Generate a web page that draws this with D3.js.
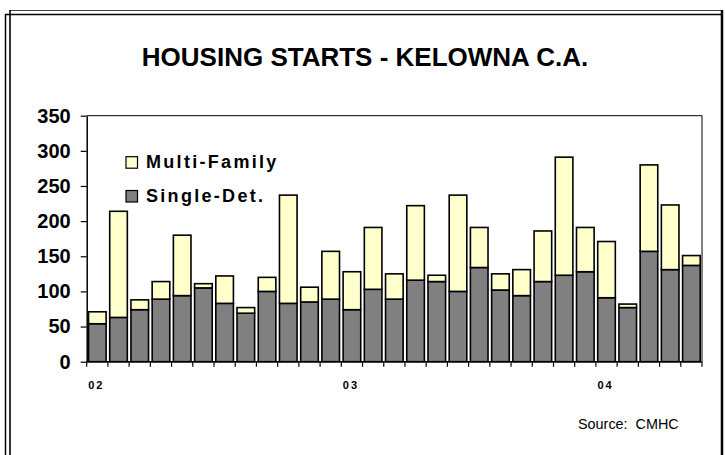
<!DOCTYPE html>
<html>
<head>
<meta charset="utf-8">
<script src="https://cdn.jsdelivr.net/npm/d3@7/dist/d3.min.js"></script>
<style>
  html, body { margin: 0; padding: 0; background: #fff; }
  svg { display: block; }
  text { font-family: "Liberation Sans", Arial, sans-serif; }
</style>
</head>
<body>
<svg id="chart" width="725" height="455"></svg>
<script>
// ---- data ----
const months = [
  "2002-01","2002-02","2002-03","2002-04","2002-05","2002-06","2002-07","2002-08","2002-09","2002-10","2002-11","2002-12",
  "2003-01","2003-02","2003-03","2003-04","2003-05","2003-06","2003-07","2003-08","2003-09","2003-10","2003-11","2003-12",
  "2004-01","2004-02","2004-03","2004-04","2004-05"
];
const singleDet = [54, 63, 74, 89, 94, 105, 83, 69, 100, 83, 85, 89,
                   74, 103, 89, 116, 114, 100, 134, 102, 94, 114, 123, 128,
                   91, 77, 157, 131, 137];
const multiFamily = [17, 151, 14, 25, 86, 6, 39, 8, 20, 154, 21, 68,
                     54, 88, 36, 106, 9, 137, 57, 23, 37, 72, 168, 63,
                     80, 5, 123, 92, 14];
const yTicks = [0, 50, 100, 150, 200, 250, 300, 350];
const xTickMonths = ["2002-01", "2003-01", "2004-01"];
const xTickLabels = ["02", "03", "04"];
const seriesNames = ["Multi-Family", "Single-Det."];
const colors = { single: "#808080", multi: "#FFFFCC" };

// ---- layout ----
const svg = d3.select("#chart");
const L = 86.7, R = 702, T = 115.7, B = 361.7;

// frame
const frame = svg.append("g").attr("fill", "none").attr("stroke", "#000");
frame.append("line").attr("x1", 9).attr("y1", 10.5).attr("x2", 723).attr("y2", 10.5).attr("stroke", "#444").attr("stroke-width", 1.2);
frame.append("line").attr("x1", 5).attr("y1", 14.5).attr("x2", 722).attr("y2", 14.5).attr("stroke-width", 1.5);
frame.append("line").attr("x1", 5.5).attr("y1", 14).attr("x2", 5.5).attr("y2", 455).attr("stroke-width", 1.5);
frame.append("line").attr("x1", 10).attr("y1", 10).attr("x2", 10).attr("y2", 455).attr("stroke-width", 1.6);
frame.append("line").attr("x1", 722).attr("y1", 10).attr("x2", 722).attr("y2", 455).attr("stroke-width", 2.5);

// title
svg.append("text")
  .attr("x", 365).attr("y", 65.5)
  .attr("text-anchor", "middle")
  .attr("font-size", 26).attr("font-weight", "bold")
  .text("HOUSING STARTS - KELOWNA C.A.");

// scales
const x = d3.scaleBand().domain(months).range([L, R]).paddingInner(0.17).paddingOuter(0.085);
const y = d3.scaleLinear().domain([0, 350]).range([B, T]);

// plot border (top and right)
svg.append("path")
  .attr("d", `M${L},${T}H${R}V${B}`)
  .attr("fill", "none").attr("stroke", "#000").attr("stroke-width", 1);

// bars
const data = months.map((m, i) => ({ m, s: singleDet[i], f: multiFamily[i] }));
const bars = svg.append("g").attr("stroke", "#000").attr("stroke-width", 1.6);
bars.selectAll("rect.single").data(data).join("rect")
  .attr("class", "single")
  .attr("x", d => x(d.m)).attr("width", x.bandwidth())
  .attr("y", d => y(d.s)).attr("height", d => y(0) - y(d.s))
  .attr("fill", colors.single);
bars.selectAll("rect.multi").data(data).join("rect")
  .attr("class", "multi")
  .attr("x", d => x(d.m)).attr("width", x.bandwidth())
  .attr("y", d => y(d.s + d.f)).attr("height", d => y(d.s) - y(d.s + d.f))
  .attr("fill", colors.multi);

// y axis
const yAxis = svg.append("g").attr("transform", `translate(${L},0)`)
  .call(d3.axisLeft(y).tickValues(yTicks).tickSize(6).tickPadding(10).tickSizeOuter(0));
yAxis.select(".domain").attr("stroke", "#000").attr("stroke-width", 1.5);
yAxis.selectAll(".tick line").attr("stroke", "#000").attr("stroke-width", 1.2);
yAxis.selectAll(".tick text")
  .attr("font-family", "'Liberation Sans', Arial, sans-serif")
  .attr("font-size", 20).attr("font-weight", "bold").attr("fill", "#000");

// x axis
const gap = (x.step() - x.bandwidth()) / 2;
const bounds = months.map(m => x(m) - gap).concat([R]);
const xAxis = svg.append("g");
xAxis.append("line").attr("x1", L).attr("x2", R).attr("y1", B).attr("y2", B)
  .attr("stroke", "#000").attr("stroke-width", 1.5);
xAxis.selectAll("line.tk").data(bounds).join("line")
  .attr("class", "tk")
  .attr("x1", d => d).attr("x2", d => d).attr("y1", B).attr("y2", B + 5)
  .attr("stroke", "#000").attr("stroke-width", 1.2);
xAxis.selectAll("text").data(xTickMonths).join("text")
  .attr("x", d => x(d) + x.bandwidth() / 2 - 1).attr("y", 389)
  .attr("text-anchor", "middle")
  .attr("font-size", 11).attr("font-weight", "bold").attr("letter-spacing", 2)
  .text((d, i) => xTickLabels[i]);

// legend
const leg = svg.append("g");
const legY = [156.7, 190.5];
const legFill = [colors.multi, colors.single];
seriesNames.forEach((name, i) => {
  leg.append("rect").attr("x", 126).attr("y", legY[i]).attr("width", 11.5).attr("height", 11.5)
    .attr("fill", legFill[i]).attr("stroke", "#000").attr("stroke-width", 1.2);
  leg.append("text").attr("x", 146).attr("y", legY[i] + 11.5)
    .attr("font-size", 18).attr("font-weight", "bold").attr("letter-spacing", 2.3)
    .text(name);
});

// source
svg.append("text").attr("x", 578).attr("y", 429)
  .attr("font-size", 14.4)
  .style("white-space", "pre")
  .text("Source:  CMHC");
</script>
</body>
</html>
